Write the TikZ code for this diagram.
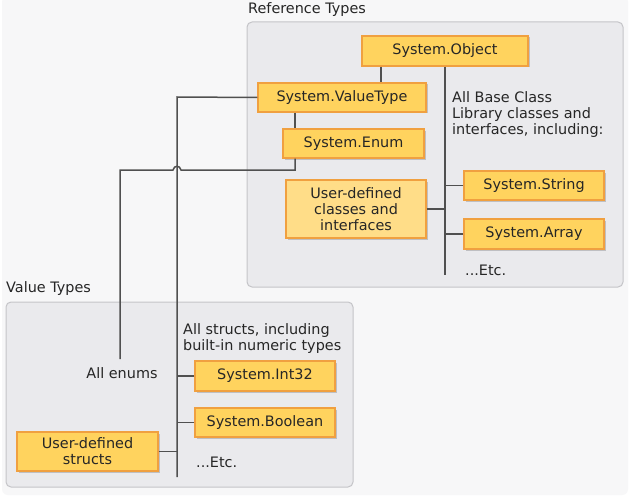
\documentclass[tikz,border=0pt]{standalone}
\usepackage{fontspec}
\setmainfont{DejaVu Sans}
\usetikzlibrary{shadows}
\definecolor{boxfill}{HTML}{FFD35E}
\definecolor{boxlight}{HTML}{FFDD88}
\definecolor{boxborder}{HTML}{F0A040}
\definecolor{panelfill}{HTML}{EAEAED}
\definecolor{panelborder}{HTML}{C4C4C8}
\definecolor{bgfill}{HTML}{F7F7F8}
\definecolor{linecol}{HTML}{505050}
\definecolor{txt}{HTML}{262626}
\begin{document}
\begin{tikzpicture}[x=1pt,y=-1pt,
  every node/.style={font=\fontsize{14.4}{16}\selectfont, text=txt},
  typebox/.style={draw=boxborder, line width=1.2pt, fill=boxfill, inner sep=0pt, align=center,
    drop shadow={shadow xshift=1.5pt, shadow yshift=-1.5pt, fill=black, opacity=0.18}},
  lightbox/.style={typebox, fill=boxlight},
  panel/.style={draw=panelborder, line width=1pt, fill=panelfill, rounded corners=5pt},
  conn/.style={draw=linecol, line width=1.5pt},
  lbl/.style={inner sep=0pt, align=left}]
\useasboundingbox (0,0) rectangle (631,500);
\fill[white] (0,0) rectangle (631,500);
\fill[bgfill, rounded corners=6pt] (2,-4) rectangle (628,495);
% panels
\draw[panel] (247,22) rectangle (623,287);
\draw[panel] (6,302) rectangle (353,487);
\node[lbl, anchor=west] (reflbl) at (248,10) {Reference Types};
\node[lbl, anchor=west] (vallbl) at (6,289) {Value Types};
% boxes
\node[typebox, minimum width=166pt, minimum height=30pt] (obj) at (445,51) {System.Object};
\node[typebox, minimum width=168pt, minimum height=29pt] (vt) at (342,97.5) {System.ValueType};
\node[typebox, minimum width=141pt, minimum height=29pt] (enum) at (353.5,143.5) {System.Enum};
\node[lightbox, minimum width=140pt, minimum height=58pt] (udc) at (356,209) {User-defined\\classes and\\interfaces};
\node[typebox, minimum width=140pt, minimum height=29pt] (str) at (534,185.5) {System.String};
\node[typebox, minimum width=140pt, minimum height=30pt] (arr) at (534,234) {System.Array};
\node[typebox, minimum width=140pt, minimum height=30pt] (int) at (265,376) {System.Int32};
\node[typebox, minimum width=140pt, minimum height=29pt] (bool) at (265,422.5) {System.Boolean};
\node[typebox, minimum width=141pt, minimum height=39pt] (uds) at (87.5,451.5) {User-defined\\structs};
% labels
\node[lbl, anchor=west] (bcl) at (452,115) {All Base Class\\Library classes and\\interfaces, including:};
\node[lbl, anchor=west] (etcr) at (465,270) {...Etc.};
\node[lbl, anchor=west] (allstr) at (183,339) {All structs, including\\built-in numeric types};
\node[lbl] (allenum) at (122,373) {All enums};
\node[lbl, anchor=west] (etcv) at (196,462) {...Etc.};
% coordinates
\coordinate (c1) at (381,0);
\coordinate (c2) at (295,0);
\coordinate (trunkR) at (445,275);
\coordinate (vtturn) at (177,97);
\coordinate (trunkV) at (177,477);
\coordinate (enturn) at (295,170);
\coordinate (hopR) at (181,170);
\coordinate (hopL) at (173,170);
\coordinate (enleft) at (120,170);
\coordinate (enend) at (120,359);
% connectors
\draw[conn] (obj.south -| c1) -- (vt.north -| c1);
\draw[conn] (vt.south -| c2) -- (enum.north -| c2);
\draw[conn] (obj.south) -- (trunkR);
\draw[conn] (udc.east) -- (udc.east -| trunkR);
\draw[conn] (str.west) -- (str.west -| trunkR);
\draw[conn] (arr.west) -- (arr.west -| trunkR);
\draw[conn] (vt.west) -- (vtturn) -- (trunkV);
\draw[conn] (enum.south -| c2) -- (enturn) -- (hopR) .. controls (180,165) and (174,165) .. (hopL) -- (enleft) -- (enend);
\draw[conn] (int.west) -- (int.west -| trunkV);
\draw[conn] (bool.west) -- (bool.west -| trunkV);
\draw[conn] (uds.east) -- (uds.east -| trunkV);
\end{tikzpicture}
\end{document}
